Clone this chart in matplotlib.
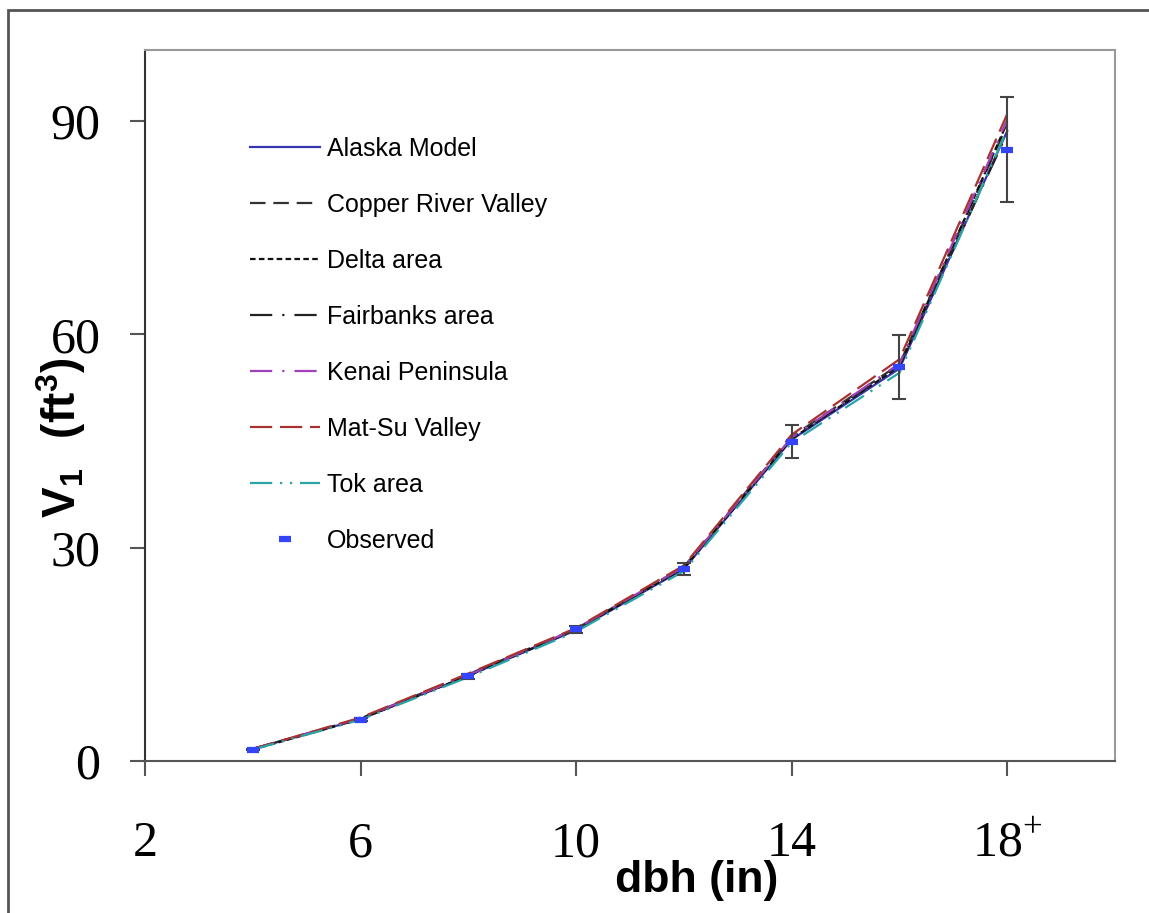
# Tree volume by dbh class: regional models vs observed

import matplotlib.pyplot as plt
from matplotlib.patches import Rectangle

plt.rcParams['mathtext.fontset'] = 'custom'
plt.rcParams['mathtext.rm'] = 'Liberation Serif'
plt.rcParams['mathtext.bf'] = 'Liberation Sans:bold'

# --- data ---
dbh = [4, 6, 8, 10, 12, 14, 16, 18]
observed = [1.6, 5.8, 11.9, 18.5, 27.0, 44.9, 55.4, 86.0]
observed_err = [0.1, 0.2, 0.3, 0.5, 0.9, 2.3, 4.5, 7.4]

alaska = [1.7, 5.9, 12.0, 18.4, 27.0, 45.2, 55.2, 88.6]
copper = [1.7, 6.0, 12.2, 18.6, 27.3, 45.6, 55.8, 89.5]
delta = [1.6, 5.9, 12.0, 18.5, 27.1, 45.3, 55.5, 89.8]
fairbanks = [1.7, 5.9, 12.1, 18.5, 27.2, 45.4, 55.6, 88.3]
kenai = [1.7, 6.0, 12.1, 18.6, 27.3, 45.5, 55.9, 90.2]
matsu = [1.7, 6.1, 12.3, 18.7, 27.5, 45.9, 56.5, 91.0]
tok = [1.6, 5.8, 11.8, 18.2, 26.7, 44.8, 54.6, 88.8]

x_ticks = [2, 6, 10, 14, 18]
x_labels = ['2', '6', '10', '14', '18$^{+}$']
y_ticks = [0, 30, 60, 90]

# --- plot ---
fig = plt.figure(figsize=(11.49, 9.13), dpi=100)
ax = fig.add_axes([0.1262, 0.1665, 0.8442, 0.7787])

lw = 1.6
ax.plot(dbh, alaska, color='#3535b0', lw=lw, label='Alaska Model')
ax.plot(dbh, copper, color='#333333', lw=lw, dashes=(7, 3.5), label='Copper River Valley')
ax.plot(dbh, delta, color='#111111', lw=lw, dashes=(2.5, 1.5), label='Delta area')
ax.plot(dbh, fairbanks, color='#222222', lw=lw, dashes=(10, 4.5, 1, 4.5), label='Fairbanks area')
ax.plot(dbh, kenai, color='#a040b8', lw=lw, dashes=(10, 4.5, 1, 4.5), label='Kenai Peninsula')
ax.plot(dbh, matsu, color='#a83232', lw=lw, dashes=(10, 3.5), label='Mat-Su Valley')
ax.plot(dbh, tok, color='#2aa5a5', lw=lw, dashes=(10, 3.5, 1, 3.5, 1, 3.5), label='Tok area')

ax.errorbar(dbh, observed, yerr=observed_err, fmt='none', ecolor='#444444',
            elinewidth=1.5, capsize=5, capthick=1.5)
ax.plot(dbh, observed, ls='none', marker='_', ms=8, mew=4.5, color='#3344ff',
        label='Observed')

ax.set_xlim(2, 20)
ax.set_ylim(0, 100)
ax.set_xticks(x_ticks)
ax.set_xticklabels(x_labels)
ax.set_yticks(y_ticks)

for lab in ax.get_xticklabels() + ax.get_yticklabels():
    lab.set_fontfamily('Liberation Serif')
    lab.set_fontsize(36)
ax.tick_params(axis='x', direction='out', length=11, width=1.5, color='#555555', pad=32)
ax.tick_params(axis='y', direction='out', length=11, width=1.5, color='#555555', pad=21)

ax.spines['left'].set_color('#333333')
ax.spines['bottom'].set_color('#555555')
ax.spines['top'].set_color('#999999')
ax.spines['right'].set_color('#999999')
for s in ax.spines.values():
    s.set_linewidth(1.5)

leg = ax.legend(loc='upper left', bbox_to_anchor=(0.108, 0.878), frameon=False,
                prop={'family': 'Liberation Sans', 'size': 18},
                handlelength=2.8, handletextpad=0.3, labelspacing=1.28,
                borderpad=0, borderaxespad=0)

fig.text(697 / 1149, 1 - 880 / 913, 'dbh (in)', ha='center', va='center',
         fontsize=32, fontweight='bold', family='Liberation Sans')
fig.text(61 / 1149, 1 - 438 / 913, r'$\mathbf{V_1\ \ (ft^3)}$', rotation=90,
         ha='center', va='center', fontsize=33)

# outer frame
fig.patches.append(Rectangle((8 / 1149, -0.1), 1.2, 1.1 - 10 / 913,
                             transform=fig.transFigure, fill=False,
                             edgecolor='#555555', lw=2))

plt.savefig('out.png', dpi=100)
